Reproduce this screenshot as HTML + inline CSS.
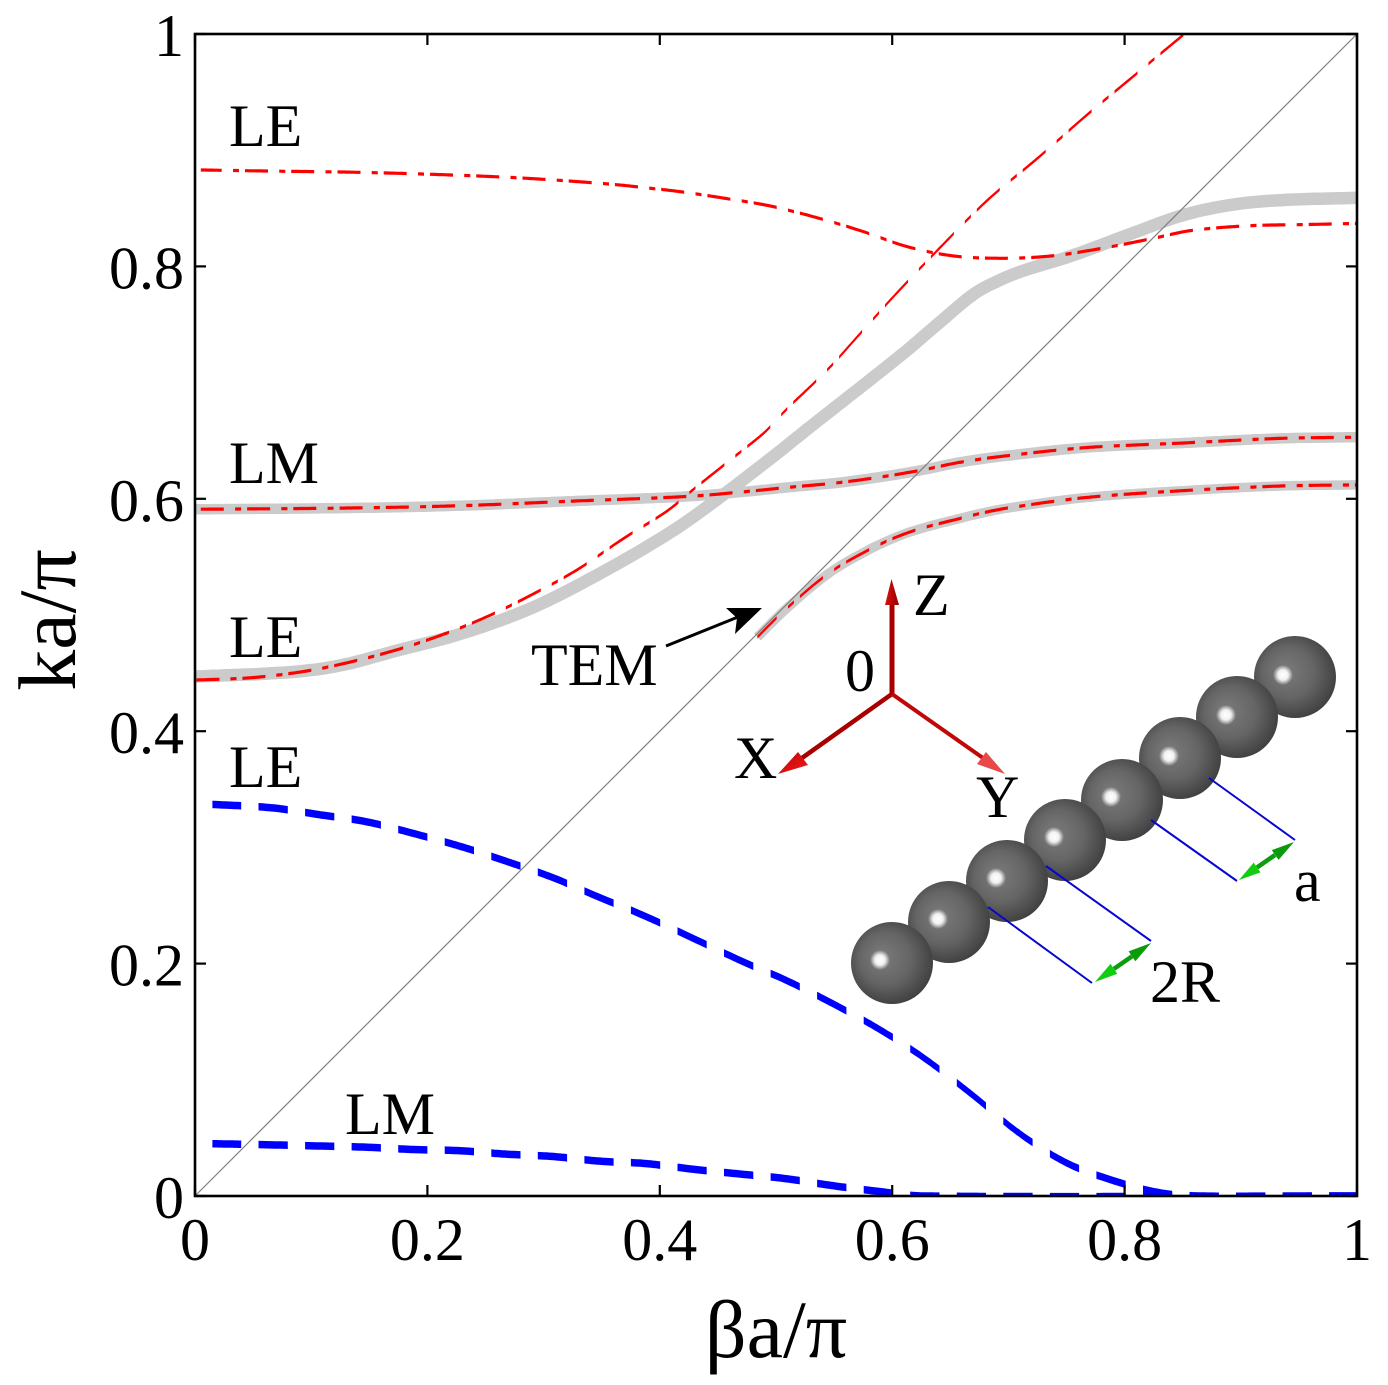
<!DOCTYPE html>
<html lang="en">
<head>
<meta charset="utf-8">
<title>Dispersion diagram ka/π versus βa/π</title>
<style>
html,body{margin:0;padding:0;background:#fff;}
svg{display:block;}
text{font-family:"Liberation Serif","DejaVu Serif",serif;fill:#000;}
.tick{font-size:60px;}
.note{font-size:60px;}
.title{font-size:82px;}
</style>
</head>
<body>
<svg id="chart" xmlns="http://www.w3.org/2000/svg" width="1388" height="1385" viewBox="0 0 1388 1385">
  <defs>
    <clipPath id="plot-clip"><rect x="195" y="34" width="1162" height="1162"/></clipPath>
    <radialGradient id="sphere-shade" cx="0.46" cy="0.46" r="0.57" fx="0.36" fy="0.42">
      <stop offset="0" stop-color="#7c7c7c"/>
      <stop offset="0.55" stop-color="#656565"/>
      <stop offset="1" stop-color="#3e3e3e"/>
    </radialGradient>
    <radialGradient id="sphere-glint">
      <stop offset="0" stop-color="#ffffff"/>
      <stop offset="0.5" stop-color="#ffffff" stop-opacity="0.9"/>
      <stop offset="1" stop-color="#ffffff" stop-opacity="0"/>
    </radialGradient>
    <linearGradient id="head-x" x1="0" y1="0" x2="1" y2="1">
      <stop offset="0" stop-color="#c00000"/><stop offset="1" stop-color="#f02020"/>
    </linearGradient>
    <linearGradient id="head-z" x1="0" y1="0" x2="1" y2="0">
      <stop offset="0" stop-color="#d81010"/><stop offset="1" stop-color="#960000"/>
    </linearGradient>
  </defs>

  <g id="gray-layer" clip-path="url(#plot-clip)"></g>
  <line id="light-line" stroke="#808080" stroke-width="1.2"></line>
  <g id="red-layer" clip-path="url(#plot-clip)"></g>
  <g id="blue-layer" clip-path="url(#plot-clip)"></g>

  <rect x="195" y="34" width="1162" height="1162" fill="none" stroke="#000" stroke-width="2.6"></rect>
  <g id="axis-layer"></g>

  <text class="title" x="776" y="1357" text-anchor="middle">βa/π</text>
  <text class="title" transform="translate(75,620) rotate(-90)" text-anchor="middle">ka/π</text>

  <text class="note" x="229" y="146">LE</text>
  <text class="note" x="229" y="483">LM</text>
  <text class="note" x="229" y="657">LE</text>
  <text class="note" x="229" y="787">LE</text>
  <text class="note" x="345" y="1134">LM</text>
  <text class="note" x="531" y="685">TEM</text>

  <g>
    <line x1="666" y1="646" x2="738" y2="617" stroke="#000" stroke-width="3"></line>
    <polygon points="762,608 726,608 737,618 735,634" fill="#000"></polygon>
  </g>

  <g>
    <g><circle cx="1295" cy="677" r="41" fill="url(#sphere-shade)"></circle><circle cx="1283" cy="675" r="10" fill="url(#sphere-glint)"></circle></g>
    <g><circle cx="1237" cy="717" r="41" fill="url(#sphere-shade)"></circle><circle cx="1226" cy="715" r="10" fill="url(#sphere-glint)"></circle></g>
    <g><circle cx="1180" cy="758" r="41" fill="url(#sphere-shade)"></circle><circle cx="1169" cy="756" r="10" fill="url(#sphere-glint)"></circle></g>
    <g><circle cx="1122" cy="800" r="41" fill="url(#sphere-shade)"></circle><circle cx="1111" cy="797" r="10" fill="url(#sphere-glint)"></circle></g>
    <g><circle cx="1065" cy="840" r="41" fill="url(#sphere-shade)"></circle><circle cx="1054" cy="837" r="10" fill="url(#sphere-glint)"></circle></g>
    <g><circle cx="1007" cy="881" r="41" fill="url(#sphere-shade)"></circle><circle cx="996" cy="878" r="10" fill="url(#sphere-glint)"></circle></g>
    <g><circle cx="949" cy="922" r="41" fill="url(#sphere-shade)"></circle><circle cx="938" cy="919" r="10" fill="url(#sphere-glint)"></circle></g>
    <g><circle cx="892" cy="963" r="41" fill="url(#sphere-shade)"></circle><circle cx="880" cy="960" r="10" fill="url(#sphere-glint)"></circle></g>
  </g>

  <g stroke="#0606d0" stroke-width="2" fill="none">
    <polyline points="1209,778 1295,840"></polyline>
    <polyline points="1151,820 1237,881"></polyline>
    <polyline points="1046,866 1151,941"></polyline>
    <polyline points="988,907 1092,983"></polyline>
  </g>

  <g>
    <line x1="1257" y1="867.5" x2="1275" y2="855" stroke="#0c9c0c" stroke-width="4.5"></line>
    <polygon points="1239,880 1253.7,862.6 1260.5,872.4" fill="#12cc12"></polygon>
    <polygon points="1294,842 1271.8,850.1 1278.6,859.9" fill="#0a9a0a"></polygon>
  </g>
  <g>
    <line x1="1114" y1="968.8" x2="1132" y2="956.3" stroke="#0c9c0c" stroke-width="4.5"></line>
    <polygon points="1095,982 1110.5,963.9 1117.3,973.7" fill="#12cc12"></polygon>
    <polygon points="1151,943 1128.6,951.4 1135.4,961.2" fill="#0a9a0a"></polygon>
  </g>

  <g>
    <line x1="892" y1="694" x2="892" y2="603" stroke="#a80000" stroke-width="5"></line>
    <polygon points="891.5,579 885,605 899,605" fill="url(#head-z)"></polygon>
    <line x1="892" y1="694" x2="802" y2="758" stroke="#a80000" stroke-width="4.5"></line>
    <polygon points="778,774 798,752 808,765" fill="url(#head-x)"></polygon>
    <line x1="892" y1="694" x2="983" y2="758" stroke="#c00808" stroke-width="4"></line>
    <polygon points="1005,774 977,764 986,752" fill="#e84848"></polygon>
  </g>

  <text class="note" x="845" y="691">0</text>
  <text class="note" x="913" y="615">Z</text>
  <text class="note" x="734" y="778">X</text>
  <text class="note" x="976" y="817">Y</text>
  <text class="note" x="1294" y="901">a</text>
  <text class="note" x="1150" y="1002">2R</text>
</svg>

<script>
var xTickValues = [0, 0.2, 0.4, 0.6, 0.8, 1];
var yTickValues = [0, 0.2, 0.4, 0.6, 0.8, 1];
var xTickLabels = ["0", "0.2", "0.4", "0.6", "0.8", "1"];
var yTickLabels = ["0", "0.2", "0.4", "0.6", "0.8", "1"];

var grayWaveBeta = [0, 0.084, 0.127, 0.176, 0.226, 0.275, 0.309, 0.358, 0.391, 0.421, 0.454, 0.497, 0.527, 0.555, 0.583, 0.613, 0.641, 0.670, 0.690, 0.712, 0.754, 0.808, 0.850, 0.892, 0.934, 1];
var grayWaveK = [0.447, 0.451, 0.457, 0.470, 0.483, 0.500, 0.515, 0.541, 0.560, 0.579, 0.603, 0.636, 0.660, 0.682, 0.704, 0.728, 0.752, 0.776, 0.787, 0.796, 0.809, 0.829, 0.844, 0.853, 0.857, 0.859];

var lmBeta = [0, 0.127, 0.226, 0.325, 0.423, 0.472, 0.512, 0.555, 0.598, 0.627, 0.656, 0.690, 0.766, 0.850, 0.934, 1];
var lmK = [0.591, 0.592, 0.594, 0.598, 0.602, 0.606, 0.610, 0.614, 0.620, 0.625, 0.631, 0.636, 0.644, 0.648, 0.652, 0.653];

var temBeta = [0.484, 0.502, 0.514, 0.535, 0.553, 0.574, 0.594, 0.614, 0.634, 0.654, 0.674, 0.699, 0.766, 0.850, 0.934, 1];
var temK = [0.481, 0.499, 0.510, 0.528, 0.541, 0.553, 0.563, 0.571, 0.577, 0.582, 0.587, 0.592, 0.601, 0.607, 0.611, 0.612];

var redWaveBeta = [0, 0.048, 0.091, 0.127, 0.170, 0.210, 0.250, 0.289, 0.329, 0.369, 0.407, 0.430, 0.469, 0.491, 0.510, 0.531, 0.549, 0.566, 0.583, 0.602, 0.641, 0.682, 0.725, 0.766, 0.808, 0.855];
var redWaveK = [0.444, 0.446, 0.451, 0.458, 0.469, 0.482, 0.498, 0.517, 0.539, 0.566, 0.590, 0.609, 0.640, 0.658, 0.678, 0.698, 0.716, 0.735, 0.754, 0.775, 0.816, 0.857, 0.893, 0.929, 0.964, 1.003];

var upperLeBeta = [0.005, 0.067, 0.139, 0.211, 0.282, 0.355, 0.394, 0.420, 0.460, 0.495, 0.535, 0.575, 0.613, 0.653, 0.695, 0.737, 0.783, 0.824, 0.858, 0.908, 0.954, 1];
var upperLeK = [0.883, 0.882, 0.881, 0.879, 0.876, 0.871, 0.867, 0.864, 0.858, 0.852, 0.842, 0.830, 0.817, 0.809, 0.807, 0.809, 0.816, 0.824, 0.831, 0.835, 0.836, 0.837];

var blueLeBeta = [0.015, 0.067, 0.108, 0.148, 0.188, 0.228, 0.268, 0.308, 0.348, 0.387, 0.426, 0.473, 0.508, 0.548, 0.588, 0.627, 0.669, 0.708, 0.749, 0.788, 0.829, 0.866, 1];
var blueLeK = [0.337, 0.334, 0.328, 0.322, 0.312, 0.301, 0.288, 0.274, 0.257, 0.241, 0.223, 0.201, 0.186, 0.166, 0.144, 0.119, 0.087, 0.055, 0.029, 0.014, 0.003, 0, 0];

var blueLmBeta = [0.015, 0.067, 0.108, 0.148, 0.188, 0.228, 0.268, 0.308, 0.348, 0.387, 0.429, 0.468, 0.508, 0.548, 0.588, 0.627, 1];
var blueLmK = [0.045, 0.044, 0.043, 0.042, 0.040, 0.039, 0.036, 0.034, 0.030, 0.028, 0.023, 0.019, 0.015, 0.009, 0.004, 0, 0];

var lightLineBeta = [0, 1];
var lightLineK = [0, 1];

var SVG_NS = "http://www.w3.org/2000/svg";
var PLOT_LEFT = 195, PLOT_BOTTOM = 1196, PLOT_SIZE = 1162;

function xScale(v) { return PLOT_LEFT + PLOT_SIZE * v; }
function yScale(v) { return PLOT_BOTTOM - PLOT_SIZE * v; }

function tangent(xs, ys, i) {
  if (i === 0) return (ys[1] - ys[0]) / (xs[1] - xs[0]);
  if (i === xs.length - 1) return (ys[i] - ys[i - 1]) / (xs[i] - xs[i - 1]);
  return (ys[i + 1] - ys[i - 1]) / (xs[i + 1] - xs[i - 1]);
}

function curveAt(xs, ys, v) {
  var i = 0;
  while (i < xs.length - 2 && v > xs[i + 1]) i++;
  var h = xs[i + 1] - xs[i];
  var t = Math.max(0, Math.min(1, (v - xs[i]) / h));
  var t2 = t * t, t3 = t2 * t;
  return (2 * t3 - 3 * t2 + 1) * ys[i] + (t3 - 2 * t2 + t) * h * tangent(xs, ys, i) +
         (-2 * t3 + 3 * t2) * ys[i + 1] + (t3 - t2) * h * tangent(xs, ys, i + 1);
}

function strokePath(xs, ys) {
  var d = "";
  var first = xs[0], last = xs[xs.length - 1];
  var n = Math.ceil((last - first) / 0.003);
  for (var i = 0; i <= n; i++) {
    var v = first + (last - first) * i / n;
    d += (i ? "L" : "M") + xScale(v).toFixed(1) + " " + yScale(curveAt(xs, ys, v)).toFixed(1);
  }
  return d;
}

// A dash is a slice of the curve between two beta values, cut vertically.
function slicePath(xs, ys, from, to, thickness) {
  var a = Math.max(from, xs[0]), b = Math.min(to, xs[xs.length - 1]);
  if (b <= a) return "";
  var n = Math.max(2, Math.ceil((b - a) / 0.002));
  var top = [], bottom = [];
  for (var i = 0; i <= n; i++) {
    var v = a + (b - a) * i / n;
    var px = xScale(v).toFixed(1);
    var py = yScale(curveAt(xs, ys, v));
    top.push(px + " " + (py - thickness / 2).toFixed(1));
    bottom.unshift(px + " " + (py + thickness / 2).toFixed(1));
  }
  return "M" + top.join("L") + "L" + bottom.join("L") + "Z";
}

function dashDotPath(xs, ys, firstDot, period, thickness) {
  var d = "";
  for (var k = -1; k < 30; k++) {
    var dot = firstDot + k * period;
    d += slicePath(xs, ys, dot, dot + 0.0052, thickness);
    d += slicePath(xs, ys, dot + 0.0103, dot + 0.0301, thickness);
  }
  return d;
}

function dashPath(xs, ys, start, period, length, thickness) {
  var d = "";
  for (var k = 0; k < 30; k++) {
    var s = start + k * period;
    d += slicePath(xs, ys, s, s + length, thickness);
  }
  return d;
}

var grayLayer = document.getElementById("gray-layer");
var redLayer = document.getElementById("red-layer");
var blueLayer = document.getElementById("blue-layer");
var axisLayer = document.getElementById("axis-layer");

function makePath(layer, d) {
  var p = document.createElementNS(SVG_NS, "path");
  p.setAttribute("d", d);
  layer.appendChild(p);
  return p;
}

function styleGray(p, width) {
  p.setAttribute("fill", "none");
  p.setAttribute("stroke", "#cbcbcb");
  p.setAttribute("stroke-width", width);
}

var grayWave = makePath(grayLayer, strokePath(grayWaveBeta, grayWaveK));
styleGray(grayWave, 12.5);



var grayLm = makePath(grayLayer, strokePath(lmBeta, lmK));
styleGray(grayLm, 10.5);



var grayTem = makePath(grayLayer, strokePath(temBeta, temK));
styleGray(grayTem, 9.5);



var lightLine = document.getElementById("light-line");
lightLine.setAttribute("x1", xScale(lightLineBeta[0]));
lightLine.setAttribute("y1", yScale(lightLineK[0]));
lightLine.setAttribute("x2", xScale(lightLineBeta[1]));
lightLine.setAttribute("y2", yScale(lightLineK[1]));

var redWave = makePath(redLayer, dashDotPath(redWaveBeta, redWaveK, 0.0305, 0.0395, 3.2));
redWave.setAttribute("fill", "#ff0000");



var redUpper = makePath(redLayer, dashDotPath(upperLeBeta, upperLeK, 0.0327, 0.0398, 3.2));
redUpper.setAttribute("fill", "#ff0000");



var redLm = makePath(redLayer, dashDotPath(lmBeta, lmK, 0.0345, 0.0398, 3.2));
redLm.setAttribute("fill", "#ff0000");



var redTem = makePath(redLayer, dashDotPath(temBeta, temK, 0.0327, 0.0398, 3.2));
redTem.setAttribute("fill", "#ff0000");



var blueLe = makePath(blueLayer, dashPath(blueLeBeta, blueLeK, 0.0146, 0.04006, 0.0252, 7.5));
blueLe.setAttribute("fill", "#0000ff");



var blueLm = makePath(blueLayer, dashPath(blueLmBeta, blueLmK, 0.0146, 0.04006, 0.0252, 7.5));
blueLm.setAttribute("fill", "#0000ff");



function tickLine(x1, y1, x2, y2) {
  var l = document.createElementNS(SVG_NS, "line");
  l.setAttribute("x1", x1);
  l.setAttribute("y1", y1);
  l.setAttribute("x2", x2);
  l.setAttribute("y2", y2);
  l.setAttribute("stroke", "#000");
  l.setAttribute("stroke-width", "2.2");
  axisLayer.appendChild(l);
  return l;
}

function tickText(str, x, y, anchor) {
  var t = document.createElementNS(SVG_NS, "text");
  t.setAttribute("class", "tick");
  t.setAttribute("x", x);
  t.setAttribute("y", y);
  t.setAttribute("text-anchor", anchor);
  t.textContent = str;
  axisLayer.appendChild(t);
  return t;
}

var TICK_LEN = 11;

xTickValues.forEach(function (v, i) {
  var px = xScale(v);
  var bottomTick = tickLine(px, PLOT_BOTTOM, px, PLOT_BOTTOM - TICK_LEN);
  
  
  var topTick = tickLine(px, yScale(1), px, yScale(1) + TICK_LEN);
  
  
  var label = tickText(xTickLabels[i], px, 1260, "middle");
  
  
});

yTickValues.forEach(function (v, i) {
  var py = yScale(v);
  var leftTick = tickLine(PLOT_LEFT, py, PLOT_LEFT + TICK_LEN, py);
  
  
  var rightTick = tickLine(xScale(1), py, xScale(1) - TICK_LEN, py);
  
  
  var label = tickText(yTickLabels[i], 184, py + 22, "end");
  
  
});
</script>
</body>
</html>
